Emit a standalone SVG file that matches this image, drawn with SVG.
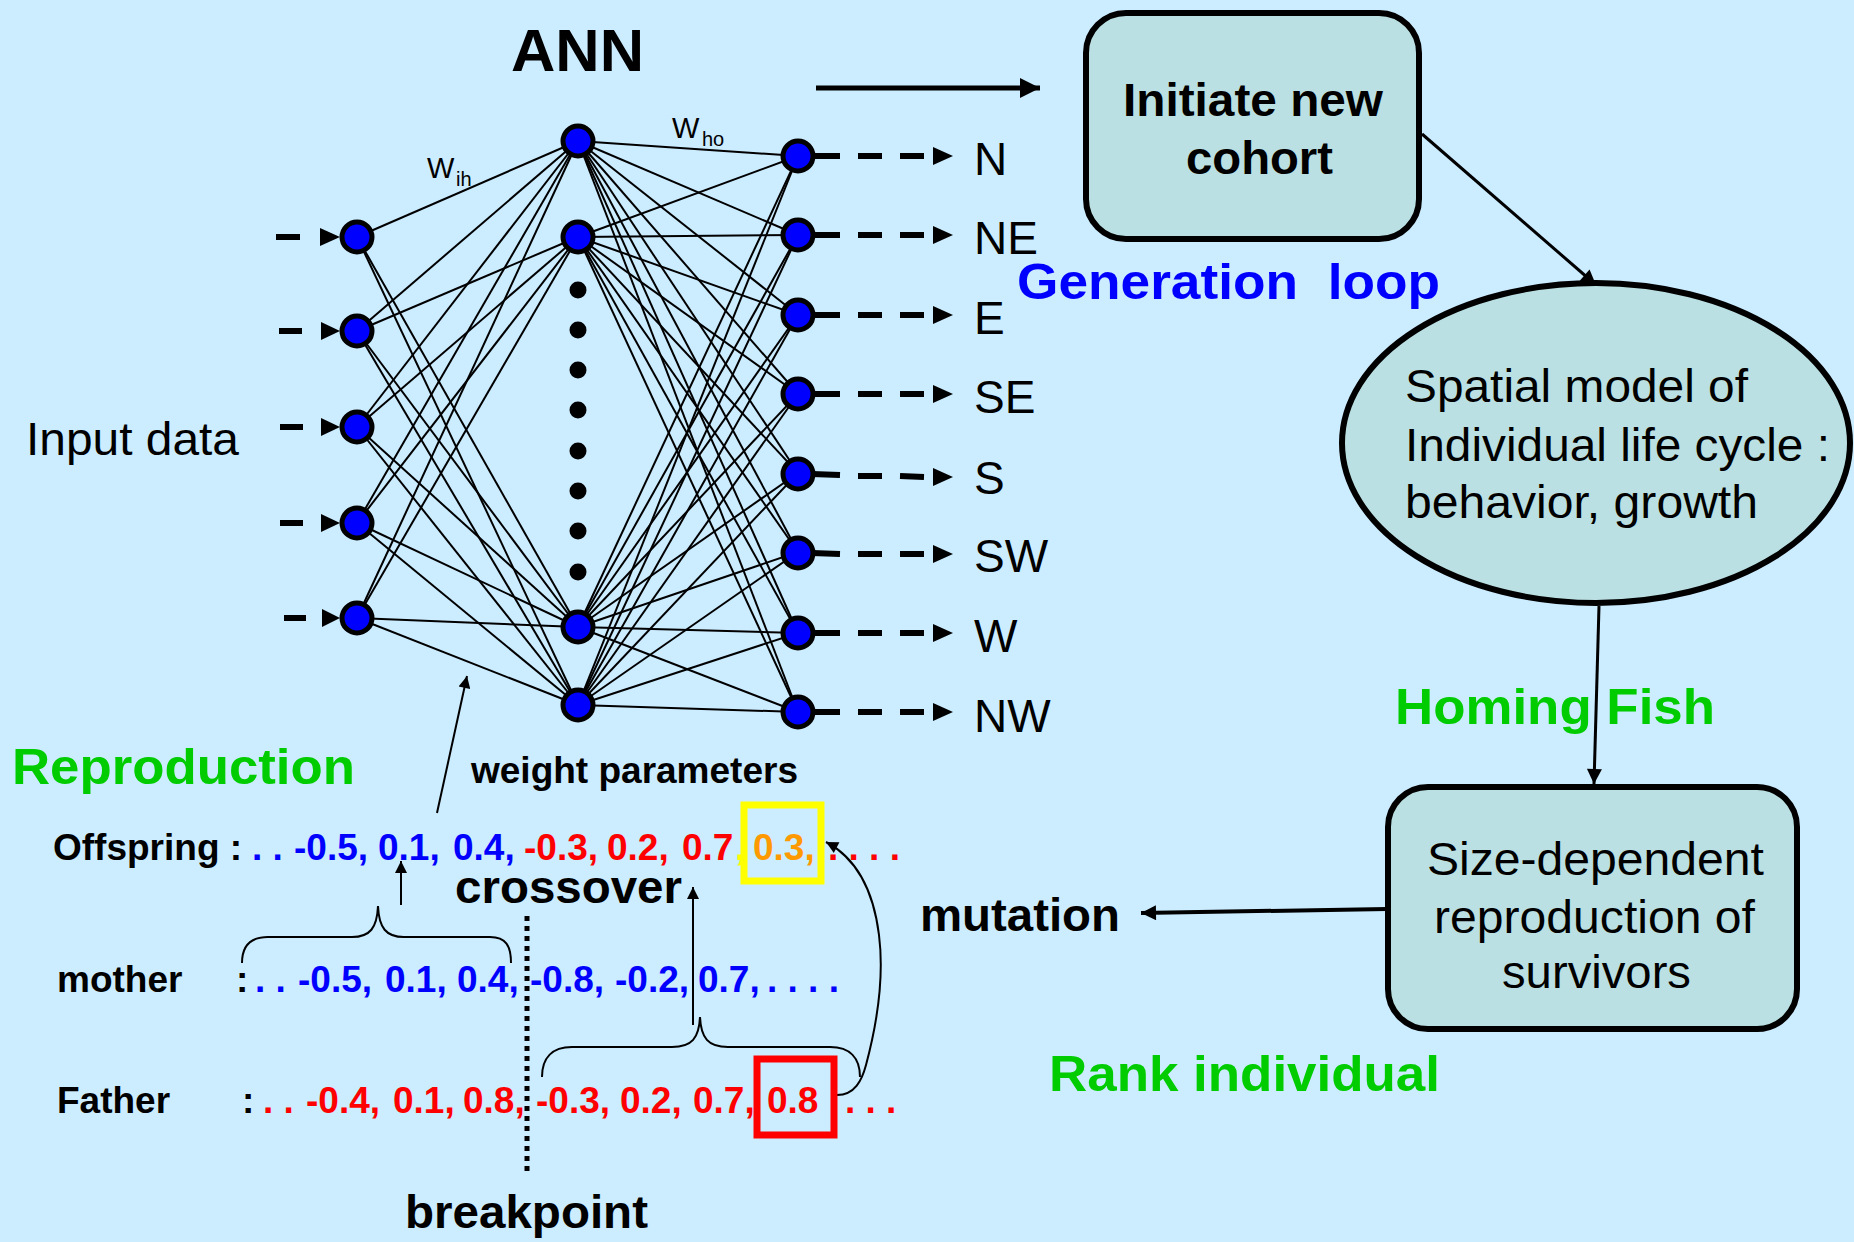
<svg xmlns="http://www.w3.org/2000/svg" width="1854" height="1242" viewBox="0 0 1854 1242">
<defs>
<style>
text { font-family: "Liberation Sans", Arial, sans-serif; }
.b { font-weight: bold; }
.lbl { font-size: 46px; fill: #000; }
.row { font-size: 37px; font-weight: bold; }
.blue { fill: #0000FF; }
.red { fill: #FF0000; }
.orange { fill: #FF9900; }
.yellow { fill: #FFFF00; }
.green { fill: #00CC00; font-weight: bold; font-size: 50px; }
.net line { stroke: #000; stroke-width: 2; }
.node { fill: #0000FF; stroke: #000; stroke-width: 5; }
.dot { fill: #000; }
.flow { fill: #BBE0E3; stroke: #000; stroke-width: 6; }
.thin { fill: none; stroke: #000; stroke-width: 2; }
.dash { stroke: #000; stroke-width: 6; fill: none; }
.head { fill: #000; }
</style>
<marker id="ahBig" viewBox="0 0 10 10" refX="10" refY="5" markerWidth="26" markerHeight="20" markerUnits="userSpaceOnUse" orient="auto"><path d="M0,0 L10,5 L0,10 z" fill="#000"/></marker>
<marker id="ahMid" viewBox="0 0 10 10" refX="10" refY="5" markerWidth="20" markerHeight="15" markerUnits="userSpaceOnUse" orient="auto"><path d="M0,0 L10,5 L0,10 z" fill="#000"/></marker>
<marker id="ahSm" viewBox="0 0 10 10" refX="10" refY="5" markerWidth="16" markerHeight="12" markerUnits="userSpaceOnUse" orient="auto"><path d="M0,0 L10,5 L0,10 z" fill="#000"/></marker>
</defs>

<rect x="0" y="0" width="1854" height="1242" fill="#CCECFF"/>

<!-- connectors -->
<g id="connectors">
  <g class="net">
    <line x1="357" y1="237" x2="578" y2="141"/>
    <line x1="357" y1="237" x2="578" y2="627"/>
    <line x1="357" y1="237" x2="578" y2="705"/>
    <line x1="357" y1="331" x2="578" y2="141"/>
    <line x1="357" y1="331" x2="578" y2="237"/>
    <line x1="357" y1="331" x2="578" y2="627"/>
    <line x1="357" y1="331" x2="578" y2="705"/>
    <line x1="357" y1="427" x2="578" y2="141"/>
    <line x1="357" y1="427" x2="578" y2="237"/>
    <line x1="357" y1="427" x2="578" y2="627"/>
    <line x1="357" y1="427" x2="578" y2="705"/>
    <line x1="357" y1="523" x2="578" y2="141"/>
    <line x1="357" y1="523" x2="578" y2="237"/>
    <line x1="357" y1="523" x2="578" y2="627"/>
    <line x1="357" y1="523" x2="578" y2="705"/>
    <line x1="357" y1="618" x2="578" y2="141"/>
    <line x1="357" y1="618" x2="578" y2="237"/>
    <line x1="357" y1="618" x2="578" y2="627"/>
    <line x1="357" y1="618" x2="578" y2="705"/>

    <line x1="578" y1="141" x2="798" y2="156"/>
    <line x1="578" y1="141" x2="798" y2="235"/>
    <line x1="578" y1="141" x2="798" y2="315"/>
    <line x1="578" y1="141" x2="798" y2="394"/>
    <line x1="578" y1="141" x2="798" y2="473"/>
    <line x1="578" y1="141" x2="798" y2="552"/>
    <line x1="578" y1="141" x2="798" y2="633"/>
    <line x1="578" y1="141" x2="798" y2="712"/>
    <line x1="578" y1="237" x2="798" y2="156"/>
    <line x1="578" y1="237" x2="798" y2="235"/>
    <line x1="578" y1="237" x2="798" y2="315"/>
    <line x1="578" y1="237" x2="798" y2="394"/>
    <line x1="578" y1="237" x2="798" y2="473"/>
    <line x1="578" y1="237" x2="798" y2="552"/>
    <line x1="578" y1="237" x2="798" y2="633"/>
    <line x1="578" y1="237" x2="798" y2="712"/>
    <line x1="578" y1="627" x2="798" y2="156"/>
    <line x1="578" y1="627" x2="798" y2="235"/>
    <line x1="578" y1="627" x2="798" y2="315"/>
    <line x1="578" y1="627" x2="798" y2="394"/>
    <line x1="578" y1="627" x2="798" y2="473"/>
    <line x1="578" y1="627" x2="798" y2="552"/>
    <line x1="578" y1="627" x2="798" y2="633"/>
    <line x1="578" y1="627" x2="798" y2="712"/>
    <line x1="578" y1="705" x2="798" y2="156"/>
    <line x1="578" y1="705" x2="798" y2="235"/>
    <line x1="578" y1="705" x2="798" y2="315"/>
    <line x1="578" y1="705" x2="798" y2="394"/>
    <line x1="578" y1="705" x2="798" y2="473"/>
    <line x1="578" y1="705" x2="798" y2="552"/>
    <line x1="578" y1="705" x2="798" y2="633"/>
    <line x1="578" y1="705" x2="798" y2="712"/>
  </g>

  <!-- input dashed arrows -->
  <g id="input-arrows">
    <path class="dash" d="M276,237 H300 M300,237"/>
    <polygon class="head" points="320,228 340,237 320,246"/>
    <path class="dash" d="M279,331 H302"/>
    <polygon class="head" points="321,322 340,331 321,340"/>
    <path class="dash" d="M280,427 H303"/>
    <polygon class="head" points="321,418 340,427 321,436"/>
    <path class="dash" d="M280,523 H303"/>
    <polygon class="head" points="321,514 340,523 321,532"/>
    <path class="dash" d="M284,618 H306"/>
    <polygon class="head" points="322,609 340,618 322,627"/>
  </g>

  <!-- output dashed arrows -->
  <g id="output-arrows">
    <path class="dash" d="M812,156 H840 M858,156 H882 M900,156 H924"/>
    <polygon class="head" points="933,147 953,156 933,165"/>
    <path class="dash" d="M812,235 H840 M858,235 H882 M900,235 H924"/>
    <polygon class="head" points="933,226 953,235 933,244"/>
    <path class="dash" d="M812,315 H840 M858,315 H882 M900,315 H924"/>
    <polygon class="head" points="933,306 953,315 933,324"/>
    <path class="dash" d="M812,394 H840 M858,394 H882 M900,394 H924"/>
    <polygon class="head" points="933,385 953,394 933,403"/>
    <path class="dash" d="M812,474 L840,475 M858,476 H882 M900,476 L924,477"/>
    <polygon class="head" points="933,468 953,477 933,486"/>
    <path class="dash" d="M812,553 L840,554 M858,554 H882 M900,554 H924"/>
    <polygon class="head" points="933,545 953,554 933,563"/>
    <path class="dash" d="M812,633 H840 M858,633 H882 M900,633 H924"/>
    <polygon class="head" points="933,624 953,633 933,642"/>
    <path class="dash" d="M812,712 H840 M858,712 H882 M900,712 H924"/>
    <polygon class="head" points="933,703 953,712 933,721"/>
  </g>

  <!-- flow arrows -->
  <line x1="816" y1="88" x2="1040" y2="88" stroke="#000" stroke-width="5" marker-end="url(#ahBig)"/>
  <line x1="1422" y1="134" x2="1596" y2="285" stroke="#000" stroke-width="3" marker-end="url(#ahMid)"/>
  <line x1="1599" y1="606" x2="1594" y2="784" stroke="#000" stroke-width="3" marker-end="url(#ahMid)"/>
  <line x1="1387" y1="909" x2="1141" y2="913" stroke="#000" stroke-width="4" marker-end="url(#ahMid)"/>

  <!-- weight parameter arrow -->
  <line x1="437" y1="813" x2="467" y2="676" class="thin" stroke-width="1.5" marker-end="url(#ahSm)"/>

  <!-- crossover braces and arrows -->
  <path class="thin" d="M242,963 C242,946 250,937 268,937 L352,937 C370,937 377,928 378,906 C379,928 386,937 404,937 L490,937 C506,937 511,946 511,963"/>
  <line x1="401" y1="905" x2="401" y2="861" class="thin" marker-end="url(#ahSm)"/>
  <path class="thin" d="M542,1077 C542,1058 552,1047 572,1047 L672,1047 C692,1047 699,1038 700,1017 C701,1038 708,1047 728,1047 L830,1047 C850,1047 860,1058 860,1077"/>
  <line x1="693" y1="1025" x2="693" y2="887" class="thin" marker-end="url(#ahSm)"/>
  <path class="thin" d="M837,1095 C855,1095 862,1080 866,1065 C878,1020 884,975 879,935 C874,895 860,860 826,842" marker-end="url(#ahSm)"/>

  <!-- breakpoint dotted line -->
  <line x1="527" y1="916" x2="527" y2="1172" stroke="#000" stroke-width="5" stroke-dasharray="5 5"/>
</g>

<!-- ANN nodes -->
<g id="input-nodes">
  <circle class="node" cx="357" cy="237" r="15"/>
  <circle class="node" cx="357" cy="331" r="15"/>
  <circle class="node" cx="357" cy="427" r="15"/>
  <circle class="node" cx="357" cy="523" r="15"/>
  <circle class="node" cx="357" cy="618" r="15"/>
</g>
<g id="hidden-nodes">
  <circle class="node" cx="578" cy="141" r="15"/>
  <circle class="node" cx="578" cy="237" r="15"/>
  <circle class="dot" cx="578" cy="290" r="8.5"/>
  <circle class="dot" cx="578" cy="330" r="8.5"/>
  <circle class="dot" cx="578" cy="370" r="8.5"/>
  <circle class="dot" cx="578" cy="410" r="8.5"/>
  <circle class="dot" cx="578" cy="451" r="8.5"/>
  <circle class="dot" cx="578" cy="491" r="8.5"/>
  <circle class="dot" cx="578" cy="531" r="8.5"/>
  <circle class="dot" cx="578" cy="572" r="8.5"/>
  <circle class="node" cx="578" cy="627" r="15"/>
  <circle class="node" cx="578" cy="705" r="15"/>
</g>
<g id="output-nodes">
  <circle class="node" cx="798" cy="156" r="15"/>
  <circle class="node" cx="798" cy="235" r="15"/>
  <circle class="node" cx="798" cy="315" r="15"/>
  <circle class="node" cx="798" cy="394" r="15"/>
  <circle class="node" cx="798" cy="474" r="15"/>
  <circle class="node" cx="798" cy="553" r="15"/>
  <circle class="node" cx="798" cy="633" r="15"/>
  <circle class="node" cx="798" cy="712" r="15"/>
</g>

<!-- ANN labels -->
<g id="ann-labels">
  <text x="511" y="71" class="b" font-size="60" textLength="133" lengthAdjust="spacingAndGlyphs">ANN</text>
  <text x="26" y="455" class="lbl" textLength="213" lengthAdjust="spacingAndGlyphs">Input data</text>
  <text x="427" y="178" font-size="29">W<tspan x="456" y="186" font-size="20">ih</tspan></text>
  <text x="672" y="138" font-size="29">W<tspan x="702" y="146" font-size="20">ho</tspan></text>
  <text x="974" y="175" class="lbl">N</text>
  <text x="974" y="254" class="lbl">NE</text>
  <text x="974" y="334" class="lbl">E</text>
  <text x="974" y="413" class="lbl">SE</text>
  <text x="974" y="494" class="lbl">S</text>
  <text x="974" y="572" class="lbl">SW</text>
  <text x="974" y="652" class="lbl">W</text>
  <text x="974" y="732" class="lbl">NW</text>
  <text x="471" y="783" class="b" font-size="36" textLength="327" lengthAdjust="spacingAndGlyphs">weight parameters</text>
</g>

<!-- flow nodes -->
<g id="node-initiate">
  <rect class="flow" x="1086" y="13" width="333" height="226" rx="40" ry="40"/>
  <text x="1123" y="116" class="b" font-size="46" textLength="260" lengthAdjust="spacingAndGlyphs">Initiate new</text>
  <text x="1186" y="174" class="b" font-size="46" textLength="147" lengthAdjust="spacingAndGlyphs">cohort</text>
</g>
<g id="node-spatial">
  <ellipse class="flow" cx="1596" cy="443" rx="254" ry="160"/>
  <text x="1405" y="402" font-size="47" textLength="343" lengthAdjust="spacingAndGlyphs">Spatial model of</text>
  <text x="1405" y="461" font-size="47" textLength="425" lengthAdjust="spacingAndGlyphs">Individual life cycle :</text>
  <text x="1405" y="518" font-size="47" textLength="353" lengthAdjust="spacingAndGlyphs">behavior, growth</text>
</g>
<g id="node-size">
  <rect class="flow" x="1388" y="787" width="409" height="242" rx="40" ry="40"/>
  <text x="1427" y="875" font-size="47" textLength="337" lengthAdjust="spacingAndGlyphs">Size-dependent</text>
  <text x="1434" y="933" font-size="47" textLength="321" lengthAdjust="spacingAndGlyphs">reproduction of</text>
  <text x="1502" y="988" font-size="47" textLength="189" lengthAdjust="spacingAndGlyphs">survivors</text>
</g>

<!-- process labels -->
<g id="labels">
  <text x="1017" y="299" class="b blue" font-size="50" xml:space="preserve" textLength="423" lengthAdjust="spacingAndGlyphs">Generation  loop</text>
  <text x="1395" y="724" class="green" textLength="320" lengthAdjust="spacingAndGlyphs">Homing Fish</text>
  <text x="1049" y="1091" class="green" textLength="391" lengthAdjust="spacingAndGlyphs">Rank individual</text>
  <text x="12" y="784" class="green" textLength="343" lengthAdjust="spacingAndGlyphs">Reproduction</text>
  <text x="920" y="931" class="b" font-size="46" textLength="200" lengthAdjust="spacingAndGlyphs">mutation</text>
  <text x="455" y="903" class="b" font-size="46" textLength="227" lengthAdjust="spacingAndGlyphs">crossover</text>
  <text x="405" y="1228" class="b" font-size="46" textLength="243" lengthAdjust="spacingAndGlyphs">breakpoint</text>
</g>

<!-- chromosome rows -->
<g id="row-offspring">
  <text y="860" class="row">
    <tspan x="53">Offspring :</tspan>
    <tspan x="252" class="blue">. .</tspan>
    <tspan x="294" class="blue">-0.5,</tspan>
    <tspan x="378" class="blue">0.1,</tspan>
    <tspan x="453" class="blue">0.4,</tspan>
    <tspan x="524" class="red">-0.3,</tspan>
    <tspan x="607" class="red">0.2,</tspan>
    <tspan x="682" class="red">0.7</tspan>
    <tspan x="735" class="yellow">,</tspan>
    <tspan x="753" class="orange">0.3,</tspan>
    <tspan x="828" class="red">. . . .</tspan>
  </text>
  <rect x="744" y="805" width="77" height="76" fill="none" stroke="#FFFF00" stroke-width="7"/>
</g>
<g id="row-mother">
  <text y="992" class="row">
    <tspan x="57">mother</tspan>
    <tspan x="236">:</tspan>
    <tspan x="255" class="blue">. .</tspan>
    <tspan x="298" class="blue">-0.5,</tspan>
    <tspan x="385" class="blue">0.1,</tspan>
    <tspan x="457" class="blue">0.4,</tspan>
    <tspan x="530" class="blue">-0.8,</tspan>
    <tspan x="615" class="blue">-0.2,</tspan>
    <tspan x="698" class="blue">0.7,</tspan>
    <tspan x="767" class="blue">. . . .</tspan>
  </text>
</g>
<g id="row-father">
  <text y="1113" class="row">
    <tspan x="57">Father</tspan>
    <tspan x="242">:</tspan>
    <tspan x="263" class="red">. .</tspan>
    <tspan x="306" class="red">-0.4,</tspan>
    <tspan x="393" class="red">0.1,</tspan>
    <tspan x="463" class="red">0.8,</tspan>
    <tspan x="536" class="red">-0.3,</tspan>
    <tspan x="620" class="red">0.2,</tspan>
    <tspan x="693" class="red">0.7,</tspan>
    <tspan x="767" class="red">0.8</tspan>
    <tspan x="845" class="red">. . .</tspan>
  </text>
  <rect x="757" y="1059" width="77" height="76" fill="none" stroke="#FF0000" stroke-width="7"/>
</g>
</svg>
